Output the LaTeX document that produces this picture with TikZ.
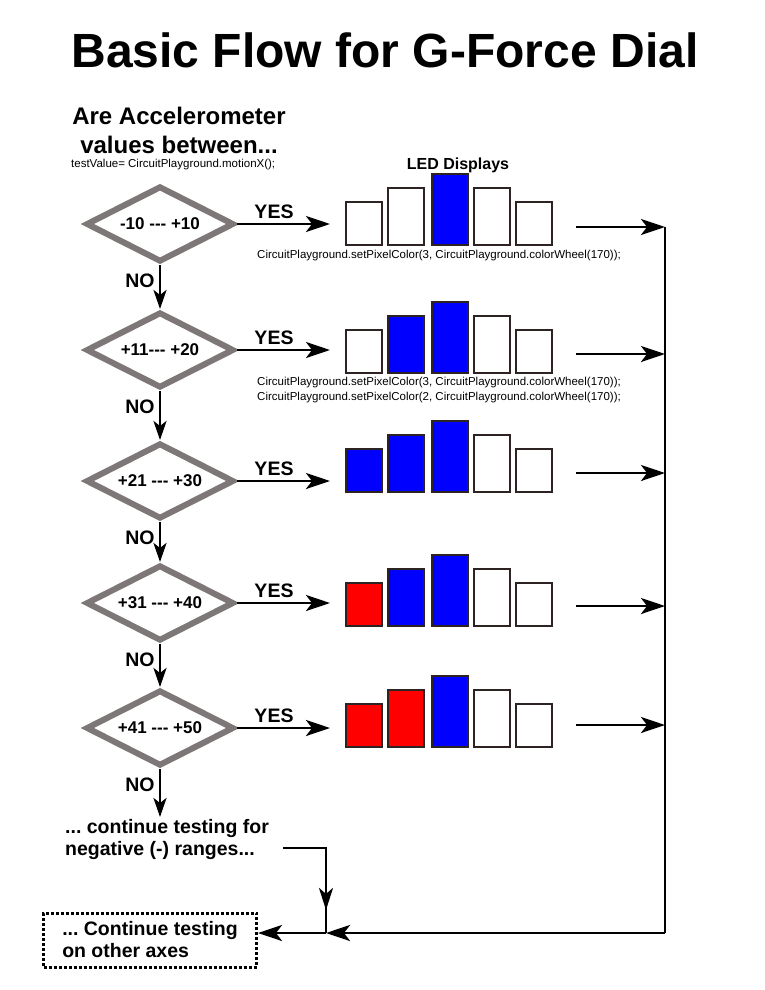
\documentclass[tikz,border=0pt]{standalone}
\usepackage{fontspec}
\setmainfont{Liberation Sans}
\newfontfamily\rangefont{Liberation Sans}
\usetikzlibrary{shapes.geometric,arrows.meta,decorations.markings}
\frenchspacing

\definecolor{diagray}{RGB}{125,119,119}
\definecolor{ledblue}{RGB}{0,0,255}
\definecolor{ledred}{RGB}{255,0,0}
\definecolor{ledline}{RGB}{45,35,35}

\begin{document}
\begin{tikzpicture}[x=1pt,y=-1pt]
	% Styles for the test boxes, the arrows and the texts
	\tikzset{
		test/.style={diamond, draw=diagray, line width=6pt, aspect=2,
			minimum width=148pt, minimum height=76pt, inner sep=0pt,
			font=\rangefont\fontsize{17}{20}\selectfont\bfseries},
		flow/.style={line width=2.8pt, -{Stealth[length=24pt,width=16pt,inset=6pt]}},
		noflow/.style={line width=2.8pt, -{Stealth[length=19pt,width=13pt,inset=5pt]}},
		answer/.style={font=\fontsize{19.5}{22}\selectfont\bfseries},
		code/.style={anchor=west, inner sep=0pt, font=\fontsize{11.5}{14}\selectfont},
		led/.style={draw=ledline, line width=1.2pt, fill=#1},
		arrow in middle/.style={
			postaction={decorate},
			decoration={markings,
				mark=at position #1 with {\arrow{Stealth[length=22pt,width=14pt,inset=6pt]}}}
		}
	}
	
	% Fix the page size
	\useasboundingbox (0,0) rectangle (765,990);
	
	% Title and headings
	\node[font=\fontsize{48}{54}\selectfont\bfseries] (title) at (385,50) {Basic Flow for G-Force Dial};
	\node[align=center, font=\fontsize{24}{29}\selectfont\bfseries] (question) at (179,130) {Are Accelerometer\\values between...};
	\node[code] (readvalue) at (71,165) {testValue= CircuitPlayground.motionX();};
	\node[font=\fontsize{16}{18}\selectfont\bfseries] (leds) at (458,165) {LED Displays};
	
	% One row per range: test, YES arrow, LED bars, arrow to the right line
	\foreach \i/\lab/\y/\b/\r/\ca/\cb in {
		1/{-10 --- +10}/224/245/227/white/white,
		2/{+11--- +20}/350/373/354/white/ledblue,
		3/{+21 --- +30}/481/492/473/ledblue/ledblue,
		4/{+31 --- +40}/603/626/606/ledred/ledblue,
		5/{+41 --- +50}/728/747/725/ledred/ledred}{
		\node[test] (d\i) at (160,\y) {\lab};
		\coordinate (in\i) at (330,\y);
		\draw[flow] (d\i.east) -- (in\i);
		\node[answer] (yes\i) at (274,\y-12) {YES};
		\node[answer] (no\i) at (140,\y+57) {NO};
		% LED bars
		\draw[led=\ca] (346,\b) rectangle ++(36,-43);
		\draw[led=\cb] (388,\b) rectangle ++(36,-57);
		\draw[led=ledblue] (432,\b) rectangle ++(36,-71);
		\draw[led=white] (474,\b) rectangle ++(36,-57);
		\draw[led=white] (516,\b) rectangle ++(36,-43);
		% arrow to the right line
		\coordinate (out\i) at (576,\r);
		\coordinate (bus\i) at (665,\r);
		\draw[flow] (out\i) -- (bus\i);
	}
	
	% code under the first two rows
	\node[code] (code1) at (257,256) {CircuitPlayground.setPixelColor(3, CircuitPlayground.colorWheel(170));};
	\node[code] (code2) at (257,383) {CircuitPlayground.setPixelColor(3, CircuitPlayground.colorWheel(170));};
	\node[code] (code3) at (257,398) {CircuitPlayground.setPixelColor(2, CircuitPlayground.colorWheel(170));};
	
	% NO arrows
	\foreach \i/\j in {1/2,2/3,3/4,4/5}
		\draw[noflow] (d\i.south) -- (d\j.north);
	
	% last NO and the end boxes
	\node[answer, align=left, anchor=north west, inner sep=2pt] (neg) at (63,817) {... continue testing for\\negative (-) ranges...};
	\draw[noflow] (d5.south) -- (d5.south |- neg.north);
	
	\node[answer, align=left, draw, line width=3pt, dash pattern=on 3pt off 2pt,
		minimum width=213pt, minimum height=54pt] (other) at (150,940) {... Continue testing\\on other axes};
	
	% right line back down to the end box
	\coordinate (corner) at (665,933);
	\coordinate (junc) at (326,933);
	\coordinate (negout) at (283,848);
	\draw[line width=2.8pt] (bus1) -- (corner);
	\draw[flow] (corner) -- (junc);
	\draw[flow] (junc) -- (junc -| other.east);
	\draw[line width=2.8pt, arrow in middle=0.82] (negout) -| (junc);
	
\end{tikzpicture}
\end{document}
